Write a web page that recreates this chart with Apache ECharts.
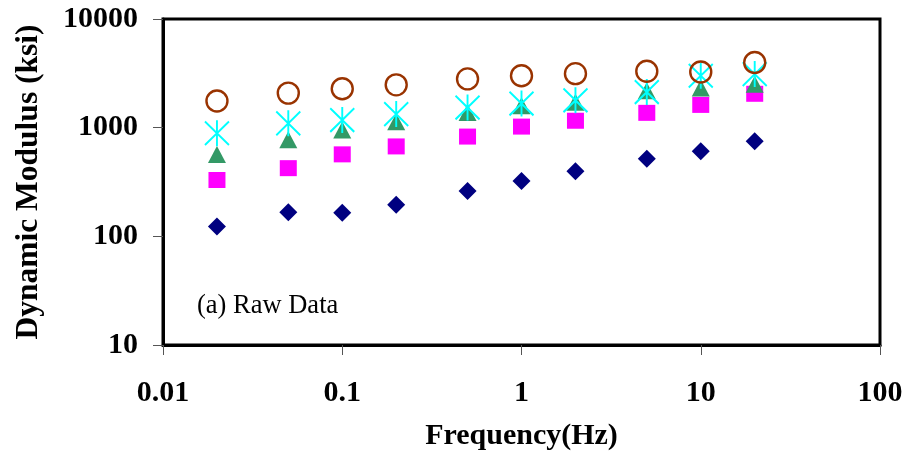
<!DOCTYPE html>
<html>
<head>
<meta charset="utf-8">
<script src="https://cdn.jsdelivr.net/npm/echarts@6/dist/echarts.min.js"></script>
<style>
html,body{margin:0;padding:0;background:#fff;}
#chart{width:909px;height:456px;}
</style>
</head>
<body>
<div id="chart"></div>
<script>
// Data
var frequencies = [0.02, 0.05, 0.1, 0.2, 0.5, 1, 2, 5, 10, 20];
var seriesDiamond = [123, 167, 165, 195, 262, 323, 398, 517, 607, 748];
var seriesSquare = [330, 424, 568, 672, 828, 1023, 1158, 1369, 1620, 2050];
var seriesTriangle = [565, 773, 952, 1135, 1380, 1590, 1710, 2190, 2320, 2510];
var seriesAsterisk = [889, 1096, 1175, 1333, 1531, 1667, 1786, 2127, 3004, 3110];
var seriesCircle = [1758, 2080, 2280, 2478, 2810, 3006, 3140, 3300, 3250, 3980];
var xTickLabels = ['0.01', '0.1', '1', '10', '100'];
var yTickLabels = ['10', '100', '1000', '10000'];
var xTickValues = [0.01, 0.1, 1, 10, 100];
var yTickValues = [10, 100, 1000, 10000];

function pairs(ys) {
  return frequencies.map(function (f, i) { return [f, ys[i]]; });
}
function labelFor(values, labels) {
  return function (v) {
    for (var i = 0; i < values.length; i++) {
      if (Math.abs(Math.log10(v) - Math.log10(values[i])) < 1e-6) return labels[i];
    }
    return '';
  };
}

var FONT = '"Liberation Serif", "Times New Roman", serif';
var chart = echarts.init(document.getElementById('chart'), null, {renderer: 'canvas'});
var asteriskPath = 'path://M0,0L20,20M20,0L0,20M10,-1L10,21';

chart.setOption({
  animation: false,
  backgroundColor: '#fff',
  grid: {left: 163, right: 29, top: 19, bottom: 110, show: true, borderColor: '#000', borderWidth: 3, containLabel: false},
  xAxis: {
    type: 'log', logBase: 10, min: 0.01, max: 100,
    name: 'Frequency(Hz)', nameLocation: 'middle', nameGap: 76,
    nameTextStyle: {fontFamily: FONT, fontWeight: 'bold', fontSize: 30, color: '#000'},
    axisLine: {show: true, lineStyle: {color: '#000', width: 3}},
    axisTick: {show: true, length: 10, inside: false, lineStyle: {color: '#555', width: 1}},
    minorTick: {show: false},
    splitLine: {show: false},
    axisLabel: {margin: 33, fontFamily: FONT, fontWeight: 'bold', fontSize: 30, color: '#000',
      formatter: labelFor(xTickValues, xTickLabels)}
  },
  yAxis: {
    type: 'log', logBase: 10, min: 10, max: 10000,
    name: 'Dynamic Modulus (ksi)', nameLocation: 'middle', nameGap: 118, nameRotate: 90,
    nameTextStyle: {fontFamily: FONT, fontWeight: 'bold', fontSize: 31.5, color: '#000'},
    axisLine: {show: true, lineStyle: {color: '#000', width: 3}},
    axisTick: {show: true, length: 10, inside: false, lineStyle: {color: '#555', width: 1}},
    splitLine: {show: false},
    axisLabel: {margin: 25, fontFamily: FONT, fontWeight: 'bold', fontSize: 30, color: '#000',
      padding: [6, 0, 0, 0],
      formatter: labelFor(yTickValues, yTickLabels)}
  },
  graphic: [{
    type: 'text', left: 197, top: 293,
    style: {text: '(a) Raw Data', font: '26.5px "Liberation Serif", "Times New Roman", serif', fill: '#000'}
  }],
  series: [
    {type: 'scatter', name: 'diamond', data: pairs(seriesDiamond), symbol: 'diamond', symbolSize: [18, 18],
      itemStyle: {color: '#000080', opacity: 1}},
    {type: 'scatter', name: 'square', data: pairs(seriesSquare), symbol: 'rect', symbolSize: [17, 16],
      itemStyle: {color: '#FF00FF', opacity: 1}},
    {type: 'scatter', name: 'triangle', data: pairs(seriesTriangle), symbol: 'triangle', symbolSize: [18, 17],
      itemStyle: {color: '#339966', opacity: 1}},
    {type: 'scatter', name: 'asterisk', data: pairs(seriesAsterisk), symbol: asteriskPath, symbolSize: [24, 26],
      itemStyle: {color: 'transparent', borderColor: '#00FFFF', borderWidth: 2, opacity: 1}},
    {type: 'scatter', name: 'circle', data: pairs(seriesCircle), symbol: 'circle', symbolSize: 21,
      itemStyle: {color: 'transparent', borderColor: '#993300', borderWidth: 2.4, opacity: 1}}
  ]
});
</script>
</body>
</html>
